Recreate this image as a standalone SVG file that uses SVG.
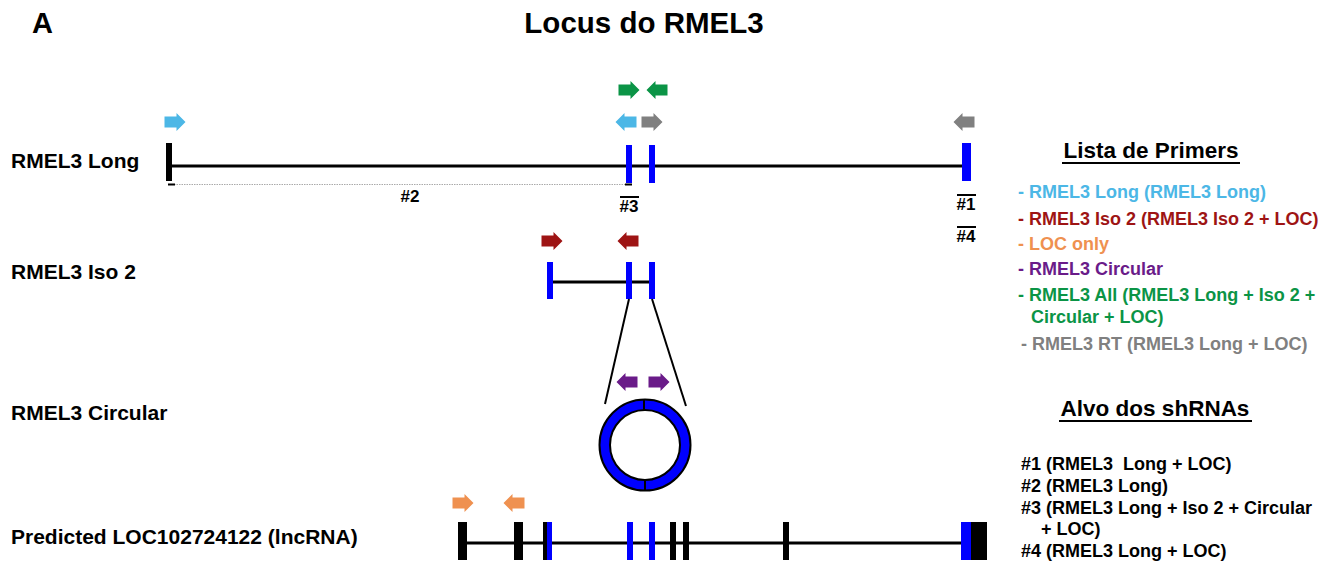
<svg xmlns="http://www.w3.org/2000/svg" xmlns:xlink="http://www.w3.org/1999/xlink" width="1330" height="561" viewBox="0 0 1330 561">
  <style>
    text { font-family: "Liberation Sans", Arial, sans-serif; font-weight: bold; }
    .title { font-size: 29.5px; fill: #000; }
    .panel { font-size: 29px; fill: #000; }
    .label { font-size: 21px; fill: #000; }
    .sh { font-size: 17px; fill: #000; }
    .head { font-size: 22.5px; fill: #000; }
    .item { font-size: 18px; }
    .intron { stroke: #000; stroke-width: 3; fill: none; }
    .exon-b { fill: #0000ff; }
    .exon-k { fill: #000; }
    .rule { stroke: #000; stroke-width: 2; }
    .conn { stroke: #000; stroke-width: 2; fill: none; }
    .c-blue { fill: #4cb7e6; }
    .c-red { fill: #9e1414; }
    .c-orange { fill: #ef9150; }
    .c-purple { fill: #6a1b89; }
    .c-green { fill: #0b9446; }
    .c-gray { fill: #808080; }
  </style>
  <defs>
    <!-- block arrow pointing right, centred on the origin -->
    <path id="arr" d="M-10.5,-5.5 H1.5 V-9 L10.5,0 L1.5,9 V5.5 H-10.5 Z"/>
  </defs>

  <rect width="1330" height="561" fill="#fff"/>

  <text class="panel" x="32" y="33">A</text>
  <text class="title" x="644" y="33" text-anchor="middle">Locus do RMEL3</text>

  <!-- row labels -->
  <g id="labels">
    <text class="label" x="11" y="168">RMEL3 Long</text>
    <text class="label" x="11" y="279">RMEL3 Iso 2</text>
    <text class="label" x="11" y="420">RMEL3 Circular</text>
    <text class="label" x="11" y="544">Predicted LOC102724122 (lncRNA)</text>
  </g>

  <!-- RMEL3 Long transcript -->
  <g id="rmel3-long">
    <line class="intron" x1="170" y1="166" x2="966" y2="166"/>
    <rect class="exon-k" x="166" y="143" width="6" height="38"/>
    <rect class="exon-b" x="626" y="145" width="6" height="38"/>
    <rect class="exon-b" x="649" y="145" width="6" height="38"/>
    <rect class="exon-b" x="962" y="143" width="9" height="38"/>
    <use xlink:href="#arr" class="c-blue" transform="translate(175,122)"/>
    <use xlink:href="#arr" class="c-green" transform="translate(629,90)"/>
    <use xlink:href="#arr" class="c-green" transform="translate(657,90) scale(-1,1)"/>
    <use xlink:href="#arr" class="c-blue" transform="translate(626,122) scale(-1,1)"/>
    <use xlink:href="#arr" class="c-gray" transform="translate(652,122)"/>
    <use xlink:href="#arr" class="c-gray" transform="translate(964,122) scale(-1,1)"/>
  </g>

  <!-- shRNA target marks -->
  <g id="shrna-marks">
    <line x1="174" y1="184.5" x2="626" y2="184.5" stroke="#aaa" stroke-width="1" stroke-dasharray="1.5,1"/>
    <line x1="168" y1="184.5" x2="175" y2="184.5" stroke="#000" stroke-width="2"/>
    <line x1="625" y1="184.5" x2="632" y2="184.5" stroke="#000" stroke-width="2"/>
    <text class="sh" x="410" y="202" text-anchor="middle">#2</text>
    <line class="rule" x1="620" y1="197" x2="639" y2="197"/>
    <text class="sh" x="629" y="212" text-anchor="middle">#3</text>
    <line class="rule" x1="957" y1="195" x2="976" y2="195"/>
    <text class="sh" x="966" y="210" text-anchor="middle">#1</text>
    <line class="rule" x1="957" y1="227" x2="976" y2="227"/>
    <text class="sh" x="966" y="242" text-anchor="middle">#4</text>
  </g>

  <!-- RMEL3 Iso 2 transcript -->
  <g id="rmel3-iso2">
    <line class="intron" x1="550" y1="282" x2="652" y2="282"/>
    <rect class="exon-b" x="547" y="262" width="6" height="37"/>
    <rect class="exon-b" x="626" y="262" width="6" height="37"/>
    <rect class="exon-b" x="649" y="262" width="6" height="37"/>
    <use xlink:href="#arr" class="c-red" transform="translate(552,241)"/>
    <use xlink:href="#arr" class="c-red" transform="translate(628,241) scale(-1,1)"/>
  </g>

  <!-- projection from the Iso 2 exons onto the circular form -->
  <g id="connectors">
    <line class="conn" x1="629" y1="299" x2="605" y2="404"/>
    <line class="conn" x1="652" y1="299" x2="686" y2="406"/>
  </g>

  <!-- RMEL3 circular RNA -->
  <g id="rmel3-circular">
    <use xlink:href="#arr" class="c-purple" transform="translate(627,382) scale(-1,1)"/>
    <use xlink:href="#arr" class="c-purple" transform="translate(659,382)"/>
    <circle cx="645" cy="445" r="45.5" fill="#0000ff" stroke="#000" stroke-width="2"/>
    <circle cx="645" cy="445" r="35" fill="#fff" stroke="#000" stroke-width="2"/>
    <line class="rule" x1="644" y1="400" x2="644" y2="410"/>
    <line class="rule" x1="645" y1="480" x2="645" y2="490"/>
  </g>

  <!-- predicted LOC102724122 lncRNA -->
  <g id="loc102724122">
    <line class="intron" x1="462" y1="543" x2="980" y2="543"/>
    <rect class="exon-k" x="458" y="522" width="9" height="38"/>
    <rect class="exon-k" x="514" y="522" width="9" height="38"/>
    <rect class="exon-k" x="543" y="522" width="4" height="38"/>
    <rect class="exon-b" x="547" y="522" width="5" height="38"/>
    <rect class="exon-b" x="627" y="522" width="6" height="38"/>
    <rect class="exon-b" x="649" y="522" width="6" height="38"/>
    <rect class="exon-k" x="670" y="522" width="6" height="38"/>
    <rect class="exon-k" x="683" y="522" width="6" height="38"/>
    <rect class="exon-k" x="783" y="522" width="6" height="38"/>
    <rect class="exon-b" x="961" y="522" width="10" height="38"/>
    <rect class="exon-k" x="971" y="522" width="16" height="38"/>
    <use xlink:href="#arr" class="c-orange" transform="translate(463,503)"/>
    <use xlink:href="#arr" class="c-orange" transform="translate(514,503) scale(-1,1)"/>
  </g>

  <!-- primer legend -->
  <g id="primer-list">
    <text class="head" x="1151" y="158" text-anchor="middle">Lista de Primers</text>
    <line class="rule" x1="1062" y1="163" x2="1240" y2="163"/>
    <text class="item c-blue" x="1018" y="198">- RMEL3 Long (RMEL3 Long)</text>
    <text class="item c-red" x="1018" y="225">- RMEL3 Iso 2 (RMEL3 Iso 2 + LOC)</text>
    <text class="item c-orange" x="1018" y="250">- LOC only</text>
    <text class="item c-purple" x="1018" y="275">- RMEL3 Circular</text>
    <text class="item c-green" x="1018" y="301">- RMEL3 All (RMEL3 Long + Iso 2 +</text>
    <text class="item c-green" x="1031" y="323">Circular + LOC)</text>
    <text class="item c-gray" x="1021" y="350">- RMEL3 RT (RMEL3 Long + LOC)</text>
  </g>

  <!-- shRNA target legend -->
  <g id="shrna-list">
    <text class="head" x="1155" y="416" text-anchor="middle">Alvo dos shRNAs</text>
    <line class="rule" x1="1059" y1="421" x2="1252" y2="421"/>
    <text class="item" x="1021" y="470" xml:space="preserve">#1 (RMEL3  Long + LOC)</text>
    <text class="item" x="1021" y="492">#2 (RMEL3 Long)</text>
    <text class="item" x="1021" y="514">#3 (RMEL3 Long + Iso 2 + Circular</text>
    <text class="item" x="1041" y="535">+ LOC)</text>
    <text class="item" x="1021" y="557">#4 (RMEL3 Long + LOC)</text>
  </g>
</svg>
